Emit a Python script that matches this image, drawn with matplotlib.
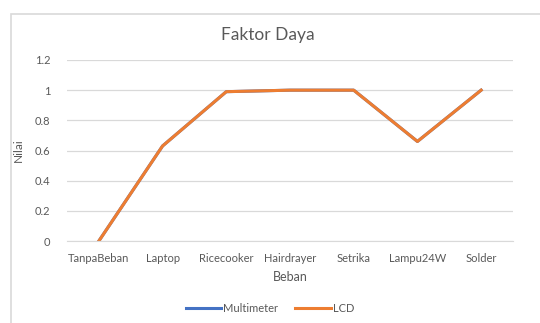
import matplotlib.pyplot as plt
from matplotlib.patches import Rectangle

plt.rcParams['font.family'] = ['Lato', 'DejaVu Sans']

beban = ['TanpaBeban', 'Laptop', 'Ricecooker', 'Hairdrayer', 'Setrika', 'Lampu24W', 'Solder']
multimeter = [0, 0.63, 0.99, 1.0, 1.0, 0.66, 1.0]
lcd = [0, 0.63, 0.99, 1.0, 1.0, 0.66, 1.0]
yticks = [0, 0.2, 0.4, 0.6, 0.8, 1, 1.2]
ytick_labels = ['0', '0.2', '0.4', '0.6', '0.8', '1', '1.2']

abu = '#595959'

fig = plt.figure(figsize=(5.4, 3.23), dpi=100)
# bingkai chart
fig.patches.append(Rectangle((11 / 540, -0.1), 1.0, 1 - 14 / 323 + 0.1,
                             transform=fig.transFigure, facecolor='none',
                             edgecolor='#D9D9D9', lw=1.2))

ax = fig.add_axes([67 / 540, 1 - 241 / 323, 446 / 540, 181 / 323])
x = range(len(beban))
ax.plot(x, multimeter, color='#4472C4', lw=2.2, label='Multimeter')
ax.plot(x, lcd, color='#ED7D31', lw=2.2, label='LCD')

ax.set_xlim(-0.5, len(beban) - 0.5)
ax.set_ylim(0, 1.2)
ax.set_yticks(yticks)
ax.set_yticklabels(ytick_labels)
ax.set_xticks(list(x))
ax.set_xticklabels(beban)
ax.tick_params(length=0, colors=abu, labelsize=8)
ax.tick_params(axis='x', pad=9)
ax.tick_params(axis='y', pad=12)
ax.grid(axis='y', color='#D9D9D9', lw=0.9)
ax.set_axisbelow(True)
for s in ['top', 'right', 'left']:
    ax.spines[s].set_visible(False)
ax.spines['bottom'].set_color('#D9D9D9')

fig.suptitle('Faktor Daya', color=abu, fontsize=12.5, x=268 / 540, y=1 - 35 / 323, va='center')
ax.set_xlabel('Beban', color=abu, fontsize=9, labelpad=5)
ax.set_ylabel('Nilai', color=abu, fontsize=8.5, labelpad=8)

leg = fig.legend(loc='center', bbox_to_anchor=(270 / 540, 1 - 308 / 323), ncol=2,
                 frameon=False, fontsize=8, handlelength=3.2, handletextpad=0.2,
                 columnspacing=1.5)
for t in leg.get_texts():
    t.set_color(abu)

plt.savefig('out.png', dpi=100)
